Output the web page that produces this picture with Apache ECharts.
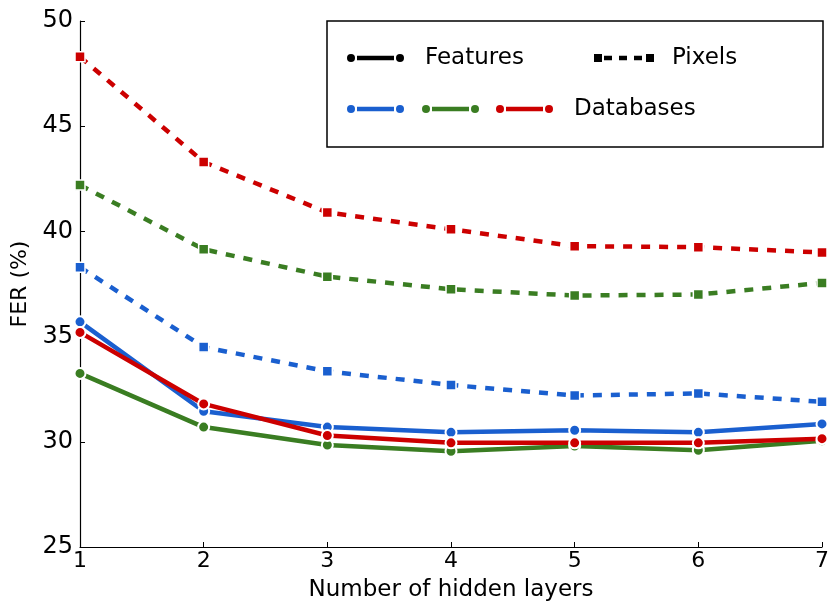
<!DOCTYPE html>
<html>
<head>
<meta charset="utf-8">
<script src="https://cdn.jsdelivr.net/npm/echarts@6/dist/echarts.min.js"></script>
<style>
html,body{margin:0;padding:0;background:#fff;}
#chart{width:833px;height:603px;}
</style>
</head>
<body>
<div id="chart"></div>
<script>
// ---- data ----
var hiddenLayers = [1, 2, 3, 4, 5, 6, 7];
var featuresBlue  = [35.7, 31.45, 30.7, 30.45, 30.55, 30.45, 30.85];
var featuresGreen = [33.25, 30.7, 29.85, 29.55, 29.8, 29.6, 30.05];
var featuresRed   = [35.2, 31.8, 30.3, 29.95, 29.95, 29.95, 30.15];
var pixelsBlue    = [38.3, 34.5, 33.35, 32.7, 32.2, 32.3, 31.9];
var pixelsGreen   = [42.2, 39.15, 37.85, 37.25, 36.95, 37.0, 37.55];
var pixelsRed     = [48.3, 43.3, 40.9, 40.1, 39.3, 39.25, 39.0];
var yTicks = [25, 30, 35, 40, 45, 50];
var legendTexts = ['Features', 'Pixels', 'Databases'];

var BLUE = '#1a5fcf', GREEN = '#3a7d22', RED = '#cc0000';
var FONT = 'DejaVu Sans';

function pairs(arr) { return hiddenLayers.map(function (x, i) { return [x, arr[i]]; }); }

function featSeries(name, arr, color) {
  return {
    type: 'line', name: name, data: pairs(arr), z: 4,
    symbol: 'circle', symbolSize: 11,
    lineStyle: { color: color, width: 4.5 },
    itemStyle: { color: color, borderColor: '#fff', borderWidth: 2 },
    emphasis: { disabled: true }
  };
}
function pixSeries(name, arr, color) {
  return {
    type: 'line', name: name, data: pairs(arr), z: 3,
    symbol: 'rect', symbolSize: 10,
    lineStyle: { color: color, width: 4.5, type: [9, 9], cap: 'butt' },
    itemStyle: { color: color, borderColor: '#fff', borderWidth: 1.5 },
    emphasis: { disabled: true }
  };
}

var chart = echarts.init(document.getElementById('chart'), null, { renderer: 'canvas' });

var L = { x0: 327, y0: 21, w: 496, h: 126, r1: 58, r2: 109 };
var legFont = '23px "' + FONT + '"';
var graphics = [
  { type: 'rect', z: 10, shape: { x: L.x0, y: L.y0, width: L.w, height: L.h },
    style: { fill: '#fff', stroke: '#000', lineWidth: 1.5 } },
  // Features icon
  { type: 'line', z: 11, shape: { x1: 357, y1: L.r1, x2: 394, y2: L.r1 }, style: { stroke: '#000', lineWidth: 4.5 } },
  { type: 'circle', z: 11, shape: { cx: 351, cy: L.r1, r: 4 }, style: { fill: '#000' } },
  { type: 'circle', z: 11, shape: { cx: 400, cy: L.r1, r: 4 }, style: { fill: '#000' } },
  { type: 'text', z: 11, style: { text: legendTexts[0], x: 425, y: L.r1, fill: '#000', font: legFont, verticalAlign: 'middle' } },
  // Pixels icon
  { type: 'line', z: 11, shape: { x1: 604, y1: L.r1, x2: 646, y2: L.r1 }, style: { stroke: '#000', lineWidth: 4.5, lineDash: [8, 7] } },
  { type: 'rect', z: 11, shape: { x: 594, y: L.r1 - 4, width: 8, height: 8 }, style: { fill: '#000' } },
  { type: 'rect', z: 11, shape: { x: 646, y: L.r1 - 4, width: 8, height: 8 }, style: { fill: '#000' } },
  { type: 'text', z: 11, style: { text: legendTexts[1], x: 672, y: L.r1, fill: '#000', font: legFont, verticalAlign: 'middle' } },
  { type: 'text', z: 11, style: { text: legendTexts[2], x: 574, y: L.r2, fill: '#000', font: legFont, verticalAlign: 'middle' } }
];
[[351, BLUE], [426, GREEN], [500, RED]].forEach(function (p) {
  var x = p[0], c = p[1];
  graphics.push({ type: 'line', z: 11, shape: { x1: x + 6, y1: L.r2, x2: x + 43, y2: L.r2 }, style: { stroke: c, lineWidth: 4.5 } });
  graphics.push({ type: 'circle', z: 11, shape: { cx: x, cy: L.r2, r: 4 }, style: { fill: c } });
  graphics.push({ type: 'circle', z: 11, shape: { cx: x + 49, cy: L.r2, r: 4 }, style: { fill: c } });
});

chart.setOption({
  animation: false,
  backgroundColor: '#fff',
  grid: { left: 80, right: 11, top: 21, bottom: 56, containLabel: false, outerBoundsMode: 'none' },
  xAxis: {
    type: 'value', min: 1, max: 7, interval: 1,
    name: 'Number of hidden layers', nameLocation: 'middle', nameGap: 32,
    nameTextStyle: { fontFamily: FONT, fontSize: 23, color: '#000' },
    axisLine: { show: true, lineStyle: { color: '#000', width: 1.2 } },
    axisTick: { show: true, inside: true, length: 5, lineStyle: { color: '#000' } },
    axisLabel: { fontFamily: FONT, fontSize: 22, color: '#000', margin: 3 },
    splitLine: { show: false }
  },
  yAxis: {
    type: 'value', min: yTicks[0], max: yTicks[yTicks.length - 1], interval: 5,
    name: 'FER (%)', nameLocation: 'middle', nameGap: 33, nameRotate: 90,
    nameTextStyle: { fontFamily: FONT, fontSize: 22, color: '#000' },
    axisLine: { show: true, lineStyle: { color: '#000', width: 1.2 } },
    axisTick: { show: true, inside: true, length: 5, lineStyle: { color: '#000' } },
    axisLabel: { fontFamily: FONT, fontSize: 24, color: '#000', margin: 7 },
    splitLine: { show: false }
  },
  series: [
    pixSeries('Pixels blue', pixelsBlue, BLUE),
    pixSeries('Pixels green', pixelsGreen, GREEN),
    pixSeries('Pixels red', pixelsRed, RED),
    featSeries('Features green', featuresGreen, GREEN),
    featSeries('Features blue', featuresBlue, BLUE),
    featSeries('Features red', featuresRed, RED)
  ],
  graphic: graphics
});
</script>
</body>
</html>
